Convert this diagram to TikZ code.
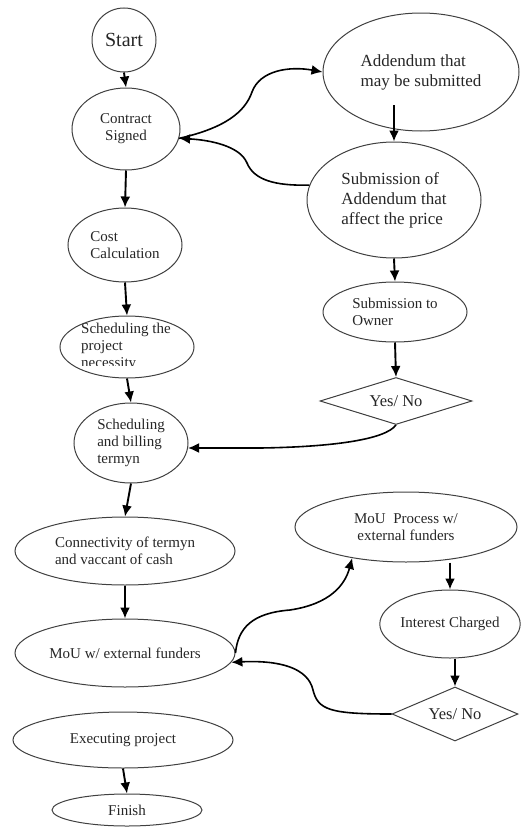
\documentclass[tikz,border=0pt]{standalone}
\usepackage{fontspec}
\setmainfont{Liberation Serif}
\usetikzlibrary{shapes.geometric,arrows.meta}
\begin{document}
\begin{tikzpicture}[x=1pt,y=-1pt,
  el/.style={ellipse,draw=black!75,line width=1pt,inner sep=0pt,align=left,text=black!85,font=\fontsize{15}{17}\selectfont},
  elb/.style={el,font=\fontsize{17}{20}\selectfont},
  dm/.style={diamond,draw=black!75,line width=1pt,inner sep=0pt,aspect=3,text=black!85,font=\fontsize{16.5}{19}\selectfont},
  arr/.style={-{Latex[length=11pt,width=10pt]},line width=1.9pt},
  crv/.style={-{Latex[length=11pt,width=10pt]},line width=1.6pt}]
\useasboundingbox (0,0) rectangle (520,827);
% left column
\node[el,circle,minimum size=64pt,font=\fontsize{20}{22}\selectfont] (start) at (124,40) {Start};
\node[el,align=center,minimum width=108pt,minimum height=82pt] (contract) at (126,129) {Contract\\Signed};
\node[el,minimum width=114pt,minimum height=74pt] (cost) at (125,245) {Cost\\Calculation};
\node[el,minimum width=134pt,minimum height=62pt] (sched) at (127,347) {};
\begin{scope}
\clip (50,310) rectangle (200,365);
\node[align=left,inner sep=0pt,text=black!85,font=\fontsize{15}{17}\selectfont] (schedtxt) at (126,347) {Scheduling the\\project\\necessity};
\end{scope}
\node[el,minimum width=114pt,minimum height=80pt] (bill) at (131,443) {Scheduling\\and billing\\termyn};
\node[el,minimum width=220pt,minimum height=68pt] (conn) at (125,551) {Connectivity of termyn\\and vaccant of cash};
\node[el,minimum width=220pt,minimum height=68pt] (mouw) at (125,653) {MoU w/ external funders};
\node[el,minimum width=220pt,minimum height=56pt] (exec) at (123,740) {Executing project};
\node[el,minimum width=150pt,minimum height=32pt] (finish) at (127,810) {Finish};
% right column
\node[elb,minimum width=196pt,minimum height=118pt] (add) at (421,72) {Addendum that\\may be submitted};
\node[elb,minimum width=174pt,minimum height=116pt] (sub) at (394,200) {Submission of\\Addendum that\\affect the price};
\node[el,minimum width=144pt,minimum height=60pt] (owner) at (395,312) {Submission to\\Owner};
\node[dm,minimum width=152pt,minimum height=47pt] (yn1) at (396,401) {Yes/ No};
\node[el,align=center,minimum width=222pt,minimum height=70pt] (mouproc) at (406,527) {MoU\ \ Process w/\\external funders};
\node[el,minimum width=140pt,minimum height=68pt] (interest) at (450,624) {Interest Charged};
\node[dm,minimum width=126pt,minimum height=54pt] (yn2) at (455,714) {Yes/ No};
% straight arrows
\draw[arr] (start.south) -- (contract.north);
\draw[arr] (contract.south) -- (cost.north);
\draw[arr] (cost.south) -- (sched.north);
\draw[arr] (sched.south) -- (bill.north);
\draw[arr] (bill.south) -- (conn.north);
\draw[arr] (conn.south) -- (mouw.north);
\draw[arr] (exec.south) -- (finish.north);
\coordinate (a1) at ([yshift=-33pt]add.center);
\draw[arr] (a1 -| sub.north) -- (sub.north);
\draw[arr] (sub.south) -- (owner.north);
\draw[arr] (owner.south) -- (yn1.north);
\draw[arr] (mouproc.south -| interest.north) -- (interest.north);
\draw[arr] (interest.south -| yn2.north) -- (yn2.north);
% curved connectors
\coordinate (m1) at (252,92);
\draw[crv] (contract.-10) .. controls (225,128) and (245,112) .. (m1) .. controls (260,70) and (290,66) .. (add.west);
\coordinate (m2) at (247,163);
\draw[crv] (sub.170) .. controls (275,186) and (254,180) .. (m2) .. controls (240,146) and (210,140) .. (contract.-10);
\draw[crv] (yn1.south) .. controls (385,440) and (330,447) .. (260,448) -- (bill.-5);
\coordinate (m3) at (290,610);
\draw[crv] (mouw.east) .. controls (238,628) and (252,613) .. (m3) .. controls (330,604) and (345,585) .. (mouproc.210);
\coordinate (m4) at (313,690);
\draw[crv] (yn2.west) .. controls (330,714) and (318,710) .. (m4) .. controls (308,668) and (280,660) .. (mouw.-5);
\end{tikzpicture}
\end{document}
